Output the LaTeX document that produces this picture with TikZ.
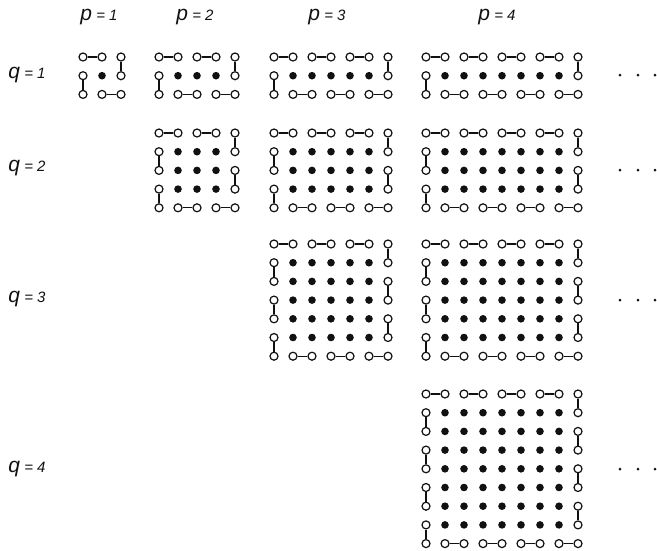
\documentclass[tikz,border=0pt]{standalone}
\usepackage{fontspec}
\setsansfont{Liberation Sans}
\usetikzlibrary{positioning}
\definecolor{inkBlack}{HTML}{111111}
\tikzset{
    vacancy/.style={circle,draw=inkBlack,fill=white,line width=1.2pt,
        minimum size=8pt,inner sep=0pt},
    site/.style={circle,fill=inkBlack,minimum size=7.6pt,inner sep=0pt},
    bond/.style={draw=inkBlack,line width=1.1pt},
    moredot/.style={circle,fill=inkBlack,minimum size=3pt,inner sep=0pt},
    axislabel/.style={font=\sffamily\itshape\fontsize{15}{15}\selectfont,
        text=inkBlack,inner sep=0pt},
    bigletter/.style={}
}
\newcommand{\axisletter}[1]{{\fontsize{21}{21}\selectfont #1}}
\newcommand{\dimerblock}[4]{%
    \pgfmathtruncatemacro\ncol{2*#1}
    \pgfmathtruncatemacro\nrow{2*#2}
    \foreach \i in {0,...,\ncol}{
        \foreach \j in {0,...,\nrow}{
            \pgfmathtruncatemacro\inner{and(and(\i>0,\i<\ncol),and(\j>0,\j<\nrow))}
            \ifnum\inner=1
                \node[site] (s#1#2-\i-\j) at (#3+\i*19,#4+\j*18.7) {};
            \else
                \node[vacancy] (s#1#2-\i-\j) at (#3+\i*19,#4+\j*18.7) {};
            \fi
        }
    }
    \foreach \k in {1,...,#1}{
        \pgfmathtruncatemacro\ka{2*\k-2}
        \pgfmathtruncatemacro\kb{2*\k-1}
        \pgfmathtruncatemacro\kc{2*\k}
        \draw[bond] (s#1#2-\ka-0) -- (s#1#2-\kb-0);
        \draw[bond] (s#1#2-\kb-\nrow) -- (s#1#2-\kc-\nrow);
    }
    \foreach \k in {1,...,#2}{
        \pgfmathtruncatemacro\ka{2*\k-2}
        \pgfmathtruncatemacro\kb{2*\k-1}
        \pgfmathtruncatemacro\kc{2*\k}
        \draw[bond] (s#1#2-\ncol-\ka) -- (s#1#2-\ncol-\kb);
        \draw[bond] (s#1#2-0-\kb) -- (s#1#2-0-\kc);
    }
}
\begin{document}
\begin{tikzpicture}[x=1pt,y=-1pt]
    \useasboundingbox (0,0) rectangle (657,550);
    \node[axislabel] (plabel1) at (99,17) {\axisletter{p} = 1};
    \node[axislabel] (plabel2) at (195,17) {\axisletter{p} = 2};
    \node[axislabel] (plabel3) at (327,17) {\axisletter{p} = 3};
    \node[axislabel] (plabel4) at (497,17) {\axisletter{p} = 4};
    \node[axislabel] (qlabel1) at (27,75) {\axisletter{q} = 1};
    \node[axislabel] (qlabel2) at (27,168) {\axisletter{q} = 2};
    \node[axislabel] (qlabel3) at (27,299) {\axisletter{q} = 3};
    \node[axislabel] (qlabel4) at (27,469) {\axisletter{q} = 4};
    \dimerblock{1}{1}{83}{57}
    \dimerblock{2}{1}{159}{57}
    \dimerblock{3}{1}{274}{57}
    \dimerblock{4}{1}{426}{57}
    \dimerblock{2}{2}{159}{133}
    \dimerblock{3}{2}{274}{133}
    \dimerblock{4}{2}{426}{133}
    \dimerblock{3}{3}{274}{244}
    \dimerblock{4}{3}{426}{244}
    \dimerblock{4}{4}{426}{394}
    \foreach \r/\y in {1/75,2/170,3/300,4/469}{
        \foreach \m/\x in {1/620,2/638,3/655}{
            \node[moredot] (more\r-\m) at (\x,\y) {};
        }
    }
\end{tikzpicture}
\end{document}
